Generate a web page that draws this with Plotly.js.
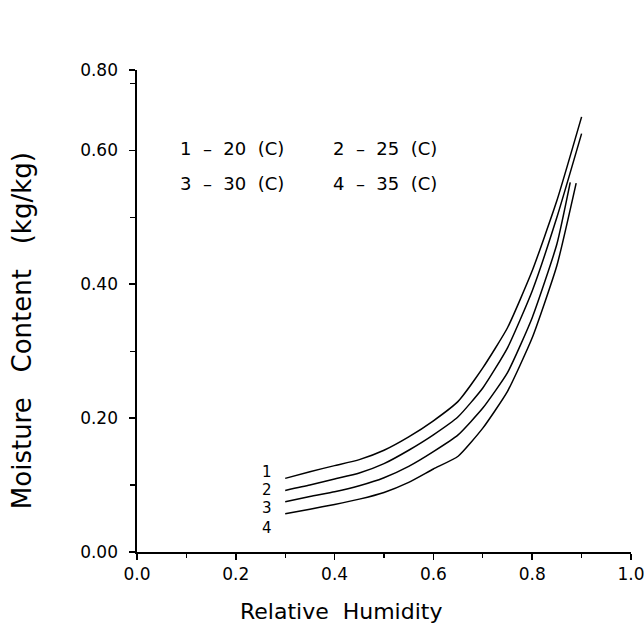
<!DOCTYPE html>
<html>
<head>
<meta charset="utf-8">
<script src="https://cdn.plot.ly/plotly-3.0.1.min.js"></script>
<style>html,body{margin:0;padding:0;background:#fff;}#chart{width:644px;height:630px;}</style>
</head>
<body>
<div id="chart"></div>
<script>
// Relative humidity values for each isotherm
const rh20 = [0.30,0.35,0.40,0.45,0.50,0.55,0.60,0.65,0.70,0.75,0.80,0.85,0.90];
const mc20 = [0.110,0.120,0.129,0.138,0.152,0.172,0.196,0.225,0.275,0.335,0.420,0.525,0.650];
const rh25 = [0.30,0.35,0.40,0.45,0.50,0.55,0.60,0.65,0.70,0.75,0.80,0.85,0.90];
const mc25 = [0.092,0.100,0.109,0.118,0.132,0.152,0.175,0.202,0.245,0.305,0.390,0.500,0.625];
const rh30 = [0.30,0.35,0.40,0.45,0.50,0.55,0.60,0.65,0.70,0.75,0.80,0.85,0.877];
const mc30 = [0.075,0.083,0.090,0.099,0.111,0.128,0.150,0.175,0.215,0.268,0.350,0.460,0.552];
const rh35 = [0.30,0.35,0.40,0.45,0.50,0.55,0.60,0.65,0.70,0.75,0.80,0.85,0.889];
const mc35 = [0.057,0.064,0.071,0.079,0.089,0.104,0.124,0.143,0.185,0.240,0.320,0.428,0.551];

const curveLabels = ["1","2","3","4"];
const NB2 = "\u00A0\u00A0";
const NB3 = "\u00A0\u00A0\u00A0";
const legendLines = ["1"+NB2+"\u2013"+NB2+"20"+NB2+"(C)", "2"+NB2+"\u2013"+NB2+"25"+NB2+"(C)",
                     "3"+NB2+"\u2013"+NB2+"30"+NB2+"(C)", "4"+NB2+"\u2013"+NB2+"35"+NB2+"(C)"];
const yTickVals = [0, 0.2, 0.4, 0.6, 0.72];
const yTickText = ["0.00","0.20","0.40","0.60","0.80"];
const xTickVals = [0, 0.2, 0.4, 0.6, 0.8, 1.0];
const xTickText = ["0.0","0.2","0.4","0.6","0.8","1.0"];
const xTitle = "Relative" + NB2 + "Humidity";
const yTitle = "Moisture" + NB3 + "Content" + NB3 + "(kg/kg)";

const FONT = "DejaVu Sans, sans-serif";
const line = {color:"#000", width:1.5, shape:"spline", smoothing:0.5};
const series = [[rh20,mc20],[rh25,mc25],[rh30,mc30],[rh35,mc35]];
const traces = series.map(s => ({x:s[0], y:s[1], type:"scatter", mode:"lines", line:line, showlegend:false, hoverinfo:"skip"}));

const ann = [];
// curve number labels, placed left of each curve start
const labelY = [0.119, 0.092, 0.065, 0.036];
curveLabels.forEach((t,i) => ann.push({x:0.263, y:labelY[i], xref:"x", yref:"y", text:t, showarrow:false,
  font:{family:FONT, size:15, color:"#000"}, xanchor:"center", yanchor:"middle"}));
// key text
const keyPos = [[0.083,0.603],[0.392,0.603],[0.083,0.551],[0.392,0.551]];
legendLines.forEach((t,i) => ann.push({x:keyPos[i][0], y:keyPos[i][1], xref:"x", yref:"y", text:t, showarrow:false,
  font:{family:FONT, size:18, color:"#000"}, xanchor:"left", yanchor:"middle"}));
// axis titles
ann.push({x:0.413, y:-0.124, xref:"paper", yref:"paper", text:xTitle, showarrow:false,
  font:{family:FONT, size:22, color:"#000"}, xanchor:"center", yanchor:"middle"});
ann.push({x:-0.233, y:0.46, xref:"paper", yref:"paper", text:yTitle, showarrow:false, textangle:-90,
  font:{family:FONT, size:26, color:"#000"}, xanchor:"center", yanchor:"middle"});

const layout = {
  width:644, height:630,
  margin:{l:137, r:13, t:70, b:78},
  paper_bgcolor:"#fff", plot_bgcolor:"#fff",
  font:{family:FONT, color:"#000"},
  xaxis:{
    range:[0,1], tickmode:"array", tickvals:xTickVals, ticktext:xTickText,
    showgrid:false, zeroline:false, showline:true, linecolor:"#000", linewidth:1.6,
    ticks:"outside", ticklen:6, tickwidth:1.5, tickcolor:"#000", ticklabeloverflow:"allow",
    tickfont:{family:FONT, size:17, color:"#000"},
    minor:{tickvals:[0.1,0.3,0.5,0.7,0.9], ticks:"outside", ticklen:4, tickwidth:1.2, tickcolor:"#000"}
  },
  yaxis:{
    range:[0,0.72], tickmode:"array", tickvals:yTickVals, ticktext:yTickText,
    showgrid:false, zeroline:false, showline:true, linecolor:"#000", linewidth:1.6,
    ticks:"outside", ticklen:6, tickwidth:1.5, tickcolor:"#000", ticklabelstandoff:8,
    tickfont:{family:FONT, size:17, color:"#000"},
    minor:{tickvals:[0.1,0.3,0.5,0.7], ticks:"outside", ticklen:5, tickwidth:1.2, tickcolor:"#000"}
  },
  annotations:ann
};
Plotly.newPlot("chart", traces, layout, {staticPlot:true, displayModeBar:false});
</script>
</body>
</html>
